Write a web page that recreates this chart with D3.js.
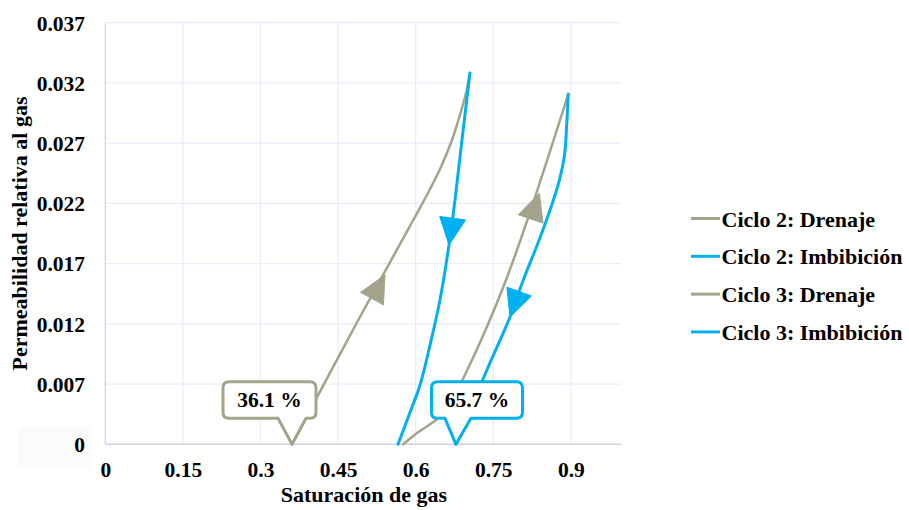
<!DOCTYPE html>
<html>
<head>
<meta charset="utf-8">
<script src="https://cdn.jsdelivr.net/npm/d3@7"></script>
<style>
  html, body { margin: 0; padding: 0; background: #fff; }
  svg { display: block; }
</style>
</head>
<body>
<svg id="chart" width="909" height="510"></svg>
<script>
// ---------- data ----------
const xTicks = [0, 0.15, 0.3, 0.45, 0.6, 0.75, 0.9];
const xTickLabels = ["0", "0.15", "0.3", "0.45", "0.6", "0.75", "0.9"];
const yTicks = [0.002, 0.007, 0.012, 0.017, 0.022, 0.027, 0.032, 0.037];
const yTickLabels = ["0", "0.007", "0.012", "0.017", "0.022", "0.027", "0.032", "0.037"];

const seriesNames = ["Ciclo 2: Drenaje", "Ciclo 2: Imbibición", "Ciclo 3: Drenaje", "Ciclo 3: Imbibición"];

const c2DrenX = [0.3609, 0.4891, 0.5954, 0.6238, 0.6489, 0.6702, 0.6857, 0.6973, 0.7049];
const c2DrenY = [0.0020, 0.01232, 0.02062, 0.02286, 0.02502, 0.02726, 0.02934, 0.03117, 0.03283];

const c2ImbX = [0.7049, 0.6895, 0.6760, 0.6644, 0.6470, 0.6277, 0.6084, 0.5871, 0.5658];
const c2ImbY = [0.03283, 0.02726, 0.02228, 0.01855, 0.01398, 0.01024, 0.00692, 0.00443, 0.0020];

const c3DrenX = [0.5761, 0.6020, 0.6470, 0.6702, 0.6921, 0.7746, 0.8950];
const c3DrenY = [0.0020, 0.00291, 0.00429, 0.00576, 0.00748, 0.01564, 0.03108];

const c3ImbX = [0.8950, 0.8919, 0.8877, 0.8770, 0.8597, 0.8365, 0.8080, 0.7823, 0.7376, 0.6779];
const c3ImbY = [0.03108, 0.02851, 0.02602, 0.02378, 0.02145, 0.01871, 0.01564, 0.01257, 0.00817, 0.0020];

// direction arrows (series index, tip position in data units)
const arrowSeries = [0, 1, 2, 3];
const arrowX = [0.5407, 0.6644, 0.8390, 0.7823];
const arrowY = [0.01606, 0.01855, 0.02284, 0.01257];

// callouts: label and the series point they point to
const calloutLabels = ["36.1 %", "65.7 %"];
const calloutSeries = [0, 3];
const calloutPoint = ["first", "last"];

(function () {
// ---------- styles ----------
const colors = ["#a3a48b", "#00b0f0", "#a3a48b", "#00b0f0"];
const widths = [2.5, 3, 2.5, 3];
const FONT = "'Liberation Serif', 'Times New Roman', Times, serif";

const svg = d3.select("#chart");
svg.append("rect").attr("width", 909).attr("height", 510).attr("fill", "#fff");

const pL = 105.3, pR = 622.6, pT = 22.7, pB = 444.3;
const x = d3.scaleLinear().domain([0, 1]).range([pL, pR]);
const y = d3.scaleLinear().domain([0.002, 0.037]).range([pB, pT]);

const fs = 21.5;
function styleText(sel, size) {
  sel.style("font-family", FONT).style("font-weight", "bold").style("font-size", size + "px")
    .attr("fill", "#000");
  return sel;
}

// gridlines
const grid = svg.append("g");
grid.selectAll("line.h").data(yTicks.slice(1)).join("line")
  .attr("x1", pL).attr("x2", 621).attr("y1", d => y(d)).attr("y2", d => y(d))
  .attr("stroke", "#ecebfb").attr("stroke-width", 1.3);
grid.selectAll("line.v").data(xTicks.slice(1)).join("line")
  .attr("x1", d => x(d)).attr("x2", d => x(d)).attr("y1", pT).attr("y2", pB)
  .attr("stroke", "#ecebfb").attr("stroke-width", 1.3);

// axis lines
svg.append("line").attr("x1", pL).attr("x2", pL).attr("y1", pT).attr("y2", pB)
  .attr("stroke", "#d8d8f6").attr("stroke-width", 1.5);
svg.append("line").attr("x1", pL).attr("x2", 621).attr("y1", pB).attr("y2", pB)
  .attr("stroke", "#cfcff4").attr("stroke-width", 1.5);

// y axis (labels only)
const yAxis = d3.axisLeft(y).tickValues(yTicks).tickSize(0).tickPadding(0)
  .tickFormat((d, i) => yTickLabels[i]);
const gy = svg.append("g").attr("transform", `translate(85,0)`).call(yAxis);
gy.select(".domain").remove();
gy.insert("rect", ":first-child").attr("x", -67).attr("y", y(0.002) - 17.5)
  .attr("width", 74).attr("height", 41).attr("fill", "#fbfbfb");
styleText(gy.selectAll("text"), fs).attr("dy", "0.34em");

// x axis (labels only)
const xAxis = d3.axisBottom(x).tickValues(xTicks).tickSize(0).tickPadding(0)
  .tickFormat((d, i) => xTickLabels[i]);
const gx = svg.append("g").attr("transform", `translate(0,470)`).call(xAxis);
gx.select(".domain").remove();
styleText(gx.selectAll("text"), fs).attr("dy", "0.34em");

// axis titles
styleText(svg.append("text"), 22).attr("x", (pL + pR) / 2).attr("y", 502)
  .attr("text-anchor", "middle").text("Saturación de gas");
styleText(svg.append("text"), 22).attr("transform", `translate(27,${(pT + pB) / 2}) rotate(-90)`)
  .attr("text-anchor", "middle").text("Permeabilidad relativa al gas");

// series
const seriesX = [c2DrenX, c2ImbX, c3DrenX, c3ImbX];
const seriesY = [c2DrenY, c2ImbY, c3DrenY, c3ImbY];
const seriesData = seriesX.map((xs, s) => xs.map((v, i) => [v, seriesY[s][i]]));

const line = d3.line().x(d => x(d[0])).y(d => y(d[1])).curve(d3.curveCatmullRom.alpha(0.5));
svg.append("g").selectAll("path").data(seriesData).join("path")
  .attr("d", line).attr("fill", "none")
  .attr("stroke", (d, i) => colors[i]).attr("stroke-width", (d, i) => widths[i])
  .attr("stroke-linejoin", "round").attr("stroke-linecap", "round");

// arrows
const arrowG = svg.append("g");
arrowSeries.forEach((s, k) => {
  const tx = x(arrowX[k]), ty = y(arrowY[k]);
  const pts = seriesData[s].map(d => [x(d[0]), y(d[1])]);
  let best = 0, bestD = Infinity;
  for (let i = 0; i < pts.length - 1; i++) {
    const [ax, ay] = pts[i], [bx, by] = pts[i + 1];
    const dx = bx - ax, dy = by - ay;
    let t = ((tx - ax) * dx + (ty - ay) * dy) / (dx * dx + dy * dy);
    t = Math.max(0, Math.min(1, t));
    const px = ax + t * dx, py = ay + t * dy;
    const dd = Math.hypot(tx - px, ty - py);
    if (dd < bestD) { bestD = dd; best = i; }
  }
  const [ax, ay] = pts[best], [bx, by] = pts[best + 1];
  const ang = Math.atan2(by - ay, bx - ax) * 180 / Math.PI;
  const L = 27, W = 26;
  arrowG.append("path")
    .attr("d", `M0,0 L${-L},${-W / 2} L${-L},${W / 2} Z`)
    .attr("transform", `translate(${tx},${ty}) rotate(${ang})`)
    .attr("fill", colors[s]).attr("stroke", colors[s]).attr("stroke-width", 1)
    .attr("stroke-linejoin", "round");
});

// callouts
const callG = svg.append("g");
calloutLabels.forEach((lab, k) => {
  const s = calloutSeries[k];
  const d = calloutPoint[k] === "first" ? seriesData[s][0] : seriesData[s][seriesData[s].length - 1];
  const tx = x(d[0]), ty = y(d[1]);
  const col = colors[s];
  const bl = k === 0 ? tx - 69 : tx - 24.5;
  const br = k === 0 ? tx + 24 : tx + 66.5;
  const bt = ty - 62.5, bb = ty - 26;
  const p1 = k === 0 ? tx - 14 : tx - 11;
  const p2 = k === 0 ? tx + 14 : tx + 15;
  const r = 6;
  const path = `M${bl + r},${bt} L${br - r},${bt} Q${br},${bt} ${br},${bt + r} L${br},${bb - r} Q${br},${bb} ${br - r},${bb}
    L${p2},${bb} L${tx},${ty} L${p1},${bb} L${bl + r},${bb} Q${bl},${bb} ${bl},${bb - r} L${bl},${bt + r} Q${bl},${bt} ${bl + r},${bt} Z`;
  callG.append("path").attr("d", path).attr("fill", "#fff").attr("stroke", col)
    .attr("stroke-width", 3).attr("stroke-linejoin", "round");
  styleText(callG.append("text"), fs).attr("x", (bl + br) / 2).attr("y", (bt + bb) / 2).attr("dy", "0.34em")
    .attr("text-anchor", "middle").text(lab);
});

// legend
const legG = svg.append("g");
seriesNames.forEach((n, i) => {
  const cy = 218.5 + i * 37.8;
  legG.append("line").attr("x1", 691).attr("x2", 720).attr("y1", cy).attr("y2", cy)
    .attr("stroke", colors[i]).attr("stroke-width", 3);
  styleText(legG.append("text"), 22).attr("x", 721.5).attr("y", cy + 8).text(n);
});
})();
</script>
</body>
</html>
